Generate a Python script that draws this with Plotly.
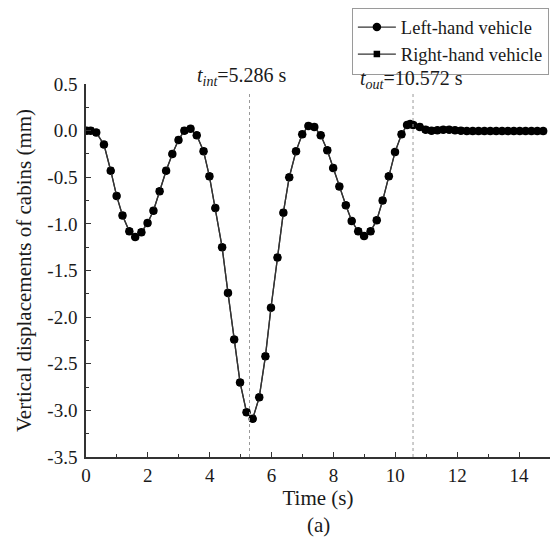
import plotly.graph_objects as go

time_s = [0.02, 0.15, 0.33, 0.58, 0.80, 0.99, 1.18, 1.40, 1.59, 1.79, 1.99, 2.18, 2.38, 2.59,
          2.79, 2.99, 3.18, 3.38, 3.58, 3.80, 3.99, 4.18, 4.40, 4.59, 4.79, 4.98, 5.19, 5.39,
          5.60, 5.80, 5.98, 6.19, 6.38, 6.57, 6.79, 6.99, 7.19, 7.38, 7.59, 7.80, 7.99, 8.19,
          8.40, 8.59, 8.80, 8.99, 9.20, 9.40, 9.59, 9.79, 9.99, 10.20, 10.38, 10.48, 10.58,
          10.79, 10.98, 11.17, 11.36, 11.55, 11.74, 11.93, 12.12, 12.31, 12.50, 12.69, 12.88,
          13.07, 13.26, 13.45, 13.64, 13.83, 14.02, 14.21, 14.40, 14.59, 14.78]
disp_mm = [0.00, 0.00, -0.02, -0.15, -0.43, -0.70, -0.91, -1.08, -1.14, -1.09, -0.99, -0.86,
           -0.65, -0.43, -0.25, -0.10, 0.00, 0.02, -0.05, -0.22, -0.49, -0.83, -1.25, -1.74,
           -2.24, -2.70, -3.02, -3.09, -2.86, -2.42, -1.90, -1.36, -0.88, -0.50, -0.22, -0.04,
           0.05, 0.04, -0.05, -0.21, -0.40, -0.60, -0.80, -0.97, -1.08, -1.13, -1.08, -0.96,
           -0.75, -0.49, -0.23, -0.04, 0.06, 0.07, 0.06, 0.04, 0.01, 0.00, 0.005, 0.01, 0.01,
           0.005, 0.00, -0.005, -0.005, -0.005, -0.005, -0.005, -0.005, -0.005, -0.005, -0.005,
           -0.005, -0.005, -0.005, -0.005, -0.005]

series_names = ["Left-hand vehicle", "Right-hand vehicle"]
t_int = 5.286
t_out = 10.572

x_tickvals = [0, 2, 4, 6, 8, 10, 12, 14]
x_ticktext = ["0", "2", "4", "6", "8", "10", "12", "14"]
y_tickvals = [0.5, 0.0, -0.5, -1.0, -1.5, -2.0, -2.5, -3.0, -3.5]
y_ticktext = ["0.5", "0.0", "-0.5", "-1.0", "-1.5", "-2.0", "-2.5", "-3.0", "-3.5"]

FONT = "Liberation Serif"
ink = "#1a1a1a"

fig = go.Figure()
fig.add_trace(go.Scatter(x=time_s, y=disp_mm, mode="lines+markers", name=series_names[0],
                         line=dict(color="#333333", width=1.3),
                         marker=dict(symbol="circle", size=8.5, color="black")))
fig.add_trace(go.Scatter(x=time_s, y=disp_mm, mode="lines+markers", name=series_names[1],
                         line=dict(color="#333333", width=1.3),
                         marker=dict(symbol="square", size=6.5, color="black")))

for tv in (t_int, t_out):
    fig.add_shape(type="line", x0=tv, x1=tv, y0=-3.5, y1=0.41, xref="x", yref="y",
                  line=dict(color="#999999", width=1, dash="dot"))

fig.add_annotation(x=t_int - 0.25, y=1.02, xref="x", yref="paper", showarrow=False,
                   text="<i>t</i><sub><i>int</i></sub>=5.286 s",
                   font=dict(family=FONT, size=20, color=ink), xanchor="center", yanchor="middle")
fig.add_annotation(x=t_out - 0.05, y=1.012, xref="x", yref="paper", showarrow=False,
                   text="<i>t</i><sub><i>out</i></sub>=10.572 s",
                   font=dict(family=FONT, size=20, color=ink), xanchor="center", yanchor="middle")
fig.add_annotation(x=0.5, y=-0.182, xref="paper", yref="paper", showarrow=False,
                   text="(a)", font=dict(family=FONT, size=21, color=ink),
                   xanchor="center", yanchor="middle")

fig.update_layout(
    width=555, height=540,
    margin=dict(l=86, r=5, t=84, b=83),
    paper_bgcolor="white", plot_bgcolor="white",
    font=dict(family=FONT, size=19, color=ink),
    showlegend=True,
    legend=dict(x=0.573, y=1.205, xanchor="left", yanchor="top",
                bgcolor="white", bordercolor="#9a9a9a", borderwidth=1,
                font=dict(family=FONT, size=18.5, color=ink),
                tracegroupgap=0, itemwidth=38),
    xaxis=dict(range=[0, 15], tickvals=x_tickvals, ticktext=x_ticktext,
               showline=True, linecolor="#333333", linewidth=1.5,
               ticks="inside", ticklen=5, tickwidth=1.2, tickcolor="#333333",
               minor=dict(ticks="inside", ticklen=3, tickwidth=1, tickcolor="#333333", dtick=1),
               showgrid=False, zeroline=False,
               title=dict(text="Time (s)", font=dict(family=FONT, size=21, color=ink), standoff=5),
               tickfont=dict(family=FONT, size=19, color=ink)),
    yaxis=dict(range=[-3.5, 0.5], tickvals=y_tickvals, ticktext=y_ticktext,
               showline=True, linecolor="#333333", linewidth=1.5,
               ticks="inside", ticklen=5, tickwidth=1.2, tickcolor="#333333",
               minor=dict(ticks="inside", ticklen=3, tickwidth=1, tickcolor="#333333",
                          tickvals=[0.25, -0.25, -0.75, -1.25, -1.75, -2.25, -2.75, -3.25]),
               showgrid=False, zeroline=False, ticklabelstandoff=3,
               title=dict(text="Vertical displacements of cabins (mm)",
                          font=dict(family=FONT, size=21, color=ink), standoff=10),
               tickfont=dict(family=FONT, size=19, color=ink)),
)

# remove the page's default 8px body margin so the figure sits at the window origin
fig.write_html("out.html", config={"displayModeBar": False},
               post_script="document.body.style.margin='0';")
